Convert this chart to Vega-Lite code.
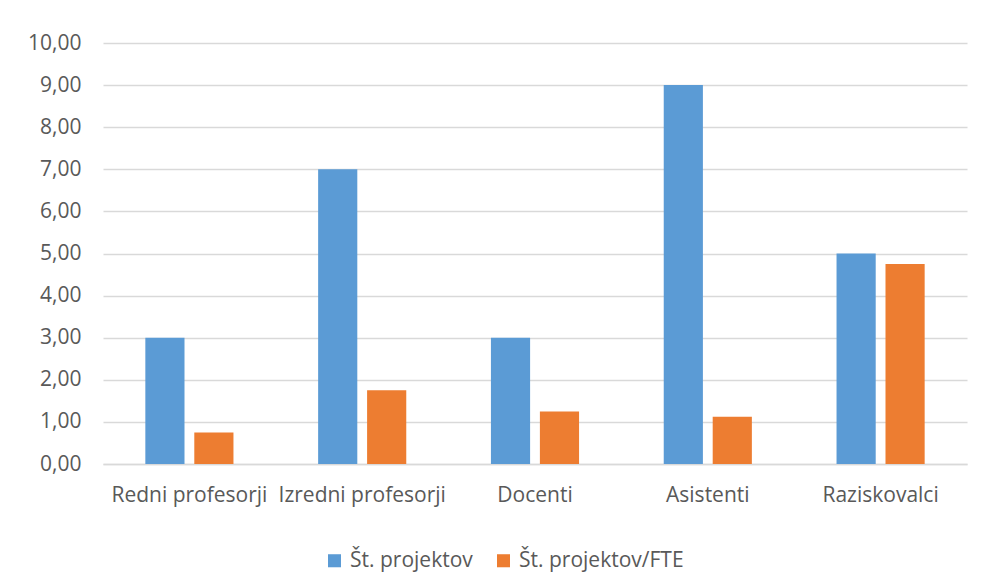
{
  "$schema": "https://vega.github.io/schema/vega-lite/v6.json",
  "width": 864,
  "height": 421,
  "autosize": {"type": "none"},
  "padding": {"left": 103, "top": 43, "right": 14, "bottom": 116},
  "background": "white",
  "data": {
    "values": [
      {"kategorija": "Redni profesorji", "serija": "Št. projektov", "vrednost": 3},
      {"kategorija": "Redni profesorji", "serija": "Št. projektov/FTE", "vrednost": 0.75},
      {"kategorija": "Izredni profesorji", "serija": "Št. projektov", "vrednost": 7},
      {"kategorija": "Izredni profesorji", "serija": "Št. projektov/FTE", "vrednost": 1.75},
      {"kategorija": "Docenti", "serija": "Št. projektov", "vrednost": 3},
      {"kategorija": "Docenti", "serija": "Št. projektov/FTE", "vrednost": 1.25},
      {"kategorija": "Asistenti", "serija": "Št. projektov", "vrednost": 9},
      {"kategorija": "Asistenti", "serija": "Št. projektov/FTE", "vrednost": 1.12},
      {"kategorija": "Raziskovalci", "serija": "Št. projektov", "vrednost": 5},
      {"kategorija": "Raziskovalci", "serija": "Št. projektov/FTE", "vrednost": 4.75}
    ]
  },
  "mark": {"type": "bar"},
  "encoding": {
    "x": {
      "field": "kategorija",
      "type": "nominal",
      "sort": null,
      "scale": {"paddingInner": 0.49, "paddingOuter": 0.245},
      "axis": {
        "title": null,
        "labelAngle": 0,
        "ticks": false,
        "labelPadding": 20,
        "labelOverlap": false,
        "labelLimit": 300,
        "domainColor": "#D9D9D9",
        "domainWidth": 1.5
      }
    },
    "xOffset": {
      "field": "serija",
      "type": "nominal",
      "sort": null,
      "scale": {"paddingInner": 0.2, "paddingOuter": 0}
    },
    "y": {
      "field": "vrednost",
      "type": "quantitative",
      "scale": {"domain": [0, 10], "nice": false},
      "axis": {
        "title": null,
        "format": ".2f",
        "values": [0,1,2,3,4,5,6,7,8,9,10],
        "labelOverlap": false,
        "ticks": false,
        "domain": false,
        "labelPadding": 22,
        "gridColor": "#D9D9D9",
        "gridWidth": 1.5
      }
    },
    "color": {
      "field": "serija",
      "type": "nominal",
      "sort": null,
      "scale": {"range": ["#5B9BD5", "#ED7D31"]},
      "legend": {
        "title": null,
        "orient": "none",
        "direction": "horizontal",
        "legendX": 221,
        "legendY": 507,
        "symbolType": "square",
        "symbolSize": 170,
        "symbolStrokeWidth": 0,
        "symbolOpacity": 1,
        "columnPadding": 20,
        "labelOffset": 5,
        "labelLimit": 400
      }
    }
  },
  "config": {
    "locale": {
      "number": {"decimal": ",", "thousands": ".", "grouping": [3], "currency": ["", " €"]}
    },
    "view": {"stroke": null},
    "font": "Open Sans",
    "axis": {
      "labelFont": "Open Sans",
      "labelFontSize": 21,
      "labelColor": "#595959"
    },
    "legend": {
      "labelFont": "Open Sans",
      "labelFontSize": 21,
      "labelColor": "#595959"
    }
  }
}
